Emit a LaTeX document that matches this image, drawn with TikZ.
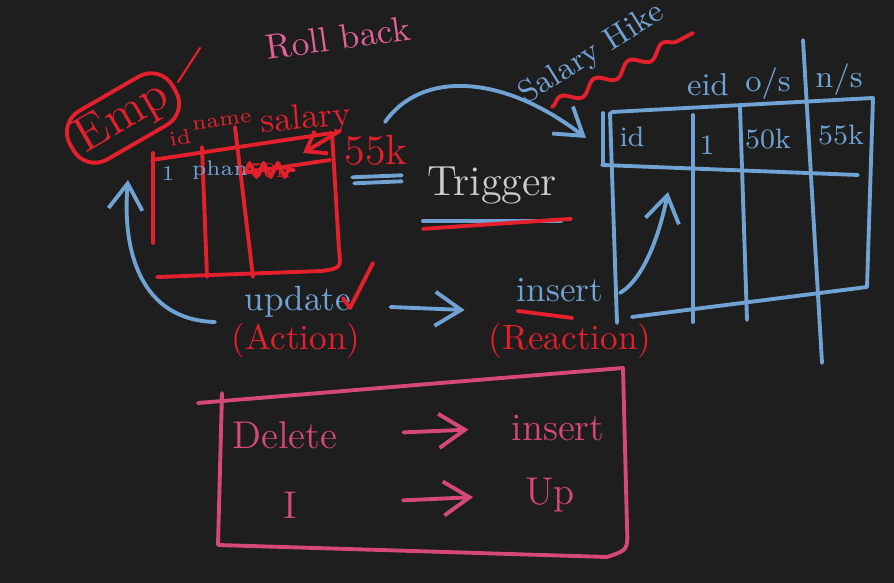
\documentclass[tikz,border=0pt]{standalone}
\usepackage{fontspec}
\usepackage{tikz}
\usetikzlibrary{arrows.meta,positioning,decorations.pathmorphing}
\definecolor{board}{RGB}{30,30,30}
\definecolor{inkred}{RGB}{228,32,45}
\definecolor{inkblue}{RGB}{112,162,212}
\definecolor{inkpink}{RGB}{214,72,118}
\definecolor{inkrose}{RGB}{226,98,152}
\definecolor{inkgrey}{RGB}{205,205,205}

\begin{document}
\begin{tikzpicture}[
  x=0.01cm,y=-0.01cm,
  ink/.style={line width=1.1pt,line cap=round,line join=round},
  redink/.style={ink,draw=inkred},
  blueink/.style={ink,draw=inkblue},
  pinkink/.style={ink,draw=inkpink},
  barb/.style={-{Straight Barb[length=2.6mm,width=3.4mm]}},
  txt/.style={inner sep=1pt,font=\fontsize{10}{12}\selectfont},
  small/.style={inner sep=1pt,font=\fontsize{6}{7}\selectfont}
]
\fill[board] (0,0) rectangle (894,583);
\useasboundingbox (0,0) rectangle (894,583);

% Emp table
\node[txt,text=inkrose,rotate=8] (rollback) at (338,38) {Roll back};
\node[redink,rounded corners=7pt,rotate=30,minimum width=1.18cm,minimum height=0.56cm,
      text=inkred,inner sep=1pt,font=\fontsize{14}{16}\selectfont] (emp) at (123,118) {Emp};
\coordinate (tickA) at (200,48);
\coordinate (tickB) at (178,82);
\draw[redink,line width=0.6pt] (tickA) -- (tickB);
\node[small,text=inkred,rotate=10] (hid) at (180,138) {id};
\node[small,text=inkred,rotate=8] (hname) at (222,122) {name};
\node[txt,text=inkred,rotate=5] (hsal) at (306,120) {salary};
\draw[redink] (153,153) -- (153,243);
\draw[redink] (152,160) -- (332,133) -- (339,250) .. controls (341,268) .. (322,271) -- (157,277);
\draw[redink] (202,147) -- (207,277);
\draw[redink] (235,127) -- (253,277);
\draw[redink] (243,173) -- (330,160);
\node[small,text=inkblue] (vone) at (168,173) {1};
\node[small,text=inkblue] (vname) at (220,170) {phan};
\node[small,text=inkred] (vold) at (270,170) {50k};
\draw[redink,decorate,decoration={zigzag,amplitude=2pt,segment length=4pt}]
  (vold.west) -- (vold.east);
\node[txt,text=inkred,font=\fontsize{12}{14}\selectfont] (k55) at (376,150) {55k};
\coordinate (salcell) at (303,153);
\draw[redink,-{Straight Barb[length=1.8mm,width=2.6mm]}] (k55.north west) .. controls (325,140) .. (salcell);
\draw[blueink] ([xshift=0.12cm,yshift=-0.08cm]k55.south west) -- ([xshift=-0.1cm,yshift=-0.06cm]k55.south east);
\draw[blueink] ([xshift=0.14cm,yshift=-0.14cm]k55.south west) -- ([xshift=-0.1cm,yshift=-0.12cm]k55.south east);

% Action and reaction
\node[txt,text=inkblue] (upd) at (298,302) {update};
\node[txt,text=inkred] (act) at (296,341) {(Action)};
\draw[redink] (343,298) -- (350,308) -- (373,263);
\coordinate (loopstart) at (215,322);
\coordinate (empin) at (128,180);
\draw[blueink,barb] (loopstart) .. controls (140,320) and (122,250) .. (empin);
\node[txt,text=inkblue] (ins) at (560,290) {insert};
\node[txt,text=inkred] (react) at (570,341) {(Reaction)};
\draw[redink] ([xshift=0.05cm,yshift=-0.05cm]ins.south west) -- ([xshift=-0.35cm,yshift=-0.12cm]ins.south east);
\draw[blueink,barb] ([xshift=0.35cm,yshift=-0.05cm]upd.east) -- ([xshift=-0.48cm,yshift=-0.2cm]ins.west);

% Trigger
\node[txt,text=inkgrey,font=\fontsize{12}{14}\selectfont] (trig) at (492,186) {Trigger};
\draw[blueink] ([yshift=-0.12cm]trig.south west) -- ([yshift=-0.12cm]trig.south east);
\draw[redink] ([yshift=-0.2cm]trig.south west) -- ([xshift=0.1cm,yshift=-0.1cm]trig.south east);
\coordinate (trigstart) at (385,122);
\coordinate (hikein) at (586,138);
\draw[blueink,barb] (trigstart) .. controls (420,72) and (500,72) .. (hikein);

% Salary hike table
\node[txt,text=inkblue,rotate=32,font=\fontsize{9}{11}\selectfont] (hike) at (592,54) {Salary Hike};
\draw[redink,decorate,decoration={snake,amplitude=1.6pt,segment length=11pt}]
  (552,107) -- (693,33);
\node[small,text=inkblue,font=\fontsize{9}{10}\selectfont] (heid) at (708,85) {eid};
\node[small,text=inkblue,font=\fontsize{9}{10}\selectfont] (hos) at (768,84) {o/s};
\node[small,text=inkblue,font=\fontsize{9}{10}\selectfont] (hns) at (839,80) {n/s};
\draw[blueink] (612,112) -- (873,98) -- (867,287) -- (632,317);
\draw[blueink] (603,113) -- (603,165);
\draw[blueink] (610,113) -- (617,323);
\draw[blueink] (602,165) -- (858,175);
\draw[blueink] (693,115) -- (693,322);
\draw[blueink] (740,107) -- (747,320);
\draw[blueink] (803,40) -- (822,363);
\node[small,text=inkblue,font=\fontsize{8}{9}\selectfont] (vid) at (632,137) {id};
\node[small,text=inkblue,font=\fontsize{8}{9}\selectfont] (vcell) at (707,145) {1};
\node[small,text=inkblue,font=\fontsize{8}{9}\selectfont] (vos) at (768,139) {50k};
\node[small,text=inkblue,font=\fontsize{8}{9}\selectfont] (vns) at (841,135) {55k};
\coordinate (rowin) at (668,192);
\draw[blueink,barb] (620,293) .. controls (645,278) and (660,232) .. (rowin);

% Pink box
\draw[pinkink] (198,403) -- (623,368) -- (627,527) .. controls (628,550) .. (607,557)
  -- (218,545) -- (222,393);
\node[txt,text=inkpink,font=\fontsize{11}{13}\selectfont] (del) at (285,435) {Delete};
\node[txt,text=inkpink,font=\fontsize{11}{13}\selectfont] (insb) at (558,428) {insert};
\node[txt,text=inkpink,font=\fontsize{11}{13}\selectfont] (ione) at (290,505) {I};
\node[txt,text=inkpink,font=\fontsize{11}{13}\selectfont] (upb) at (550,495) {Up};
\draw[pinkink,barb,shorten <=0.62cm,shorten >=0.39cm] (del.east) -- (insb.west);
\draw[pinkink,barb,shorten <=1.02cm,shorten >=0.48cm] (ione.east) -- (upb.west);
\end{tikzpicture}
\end{document}
